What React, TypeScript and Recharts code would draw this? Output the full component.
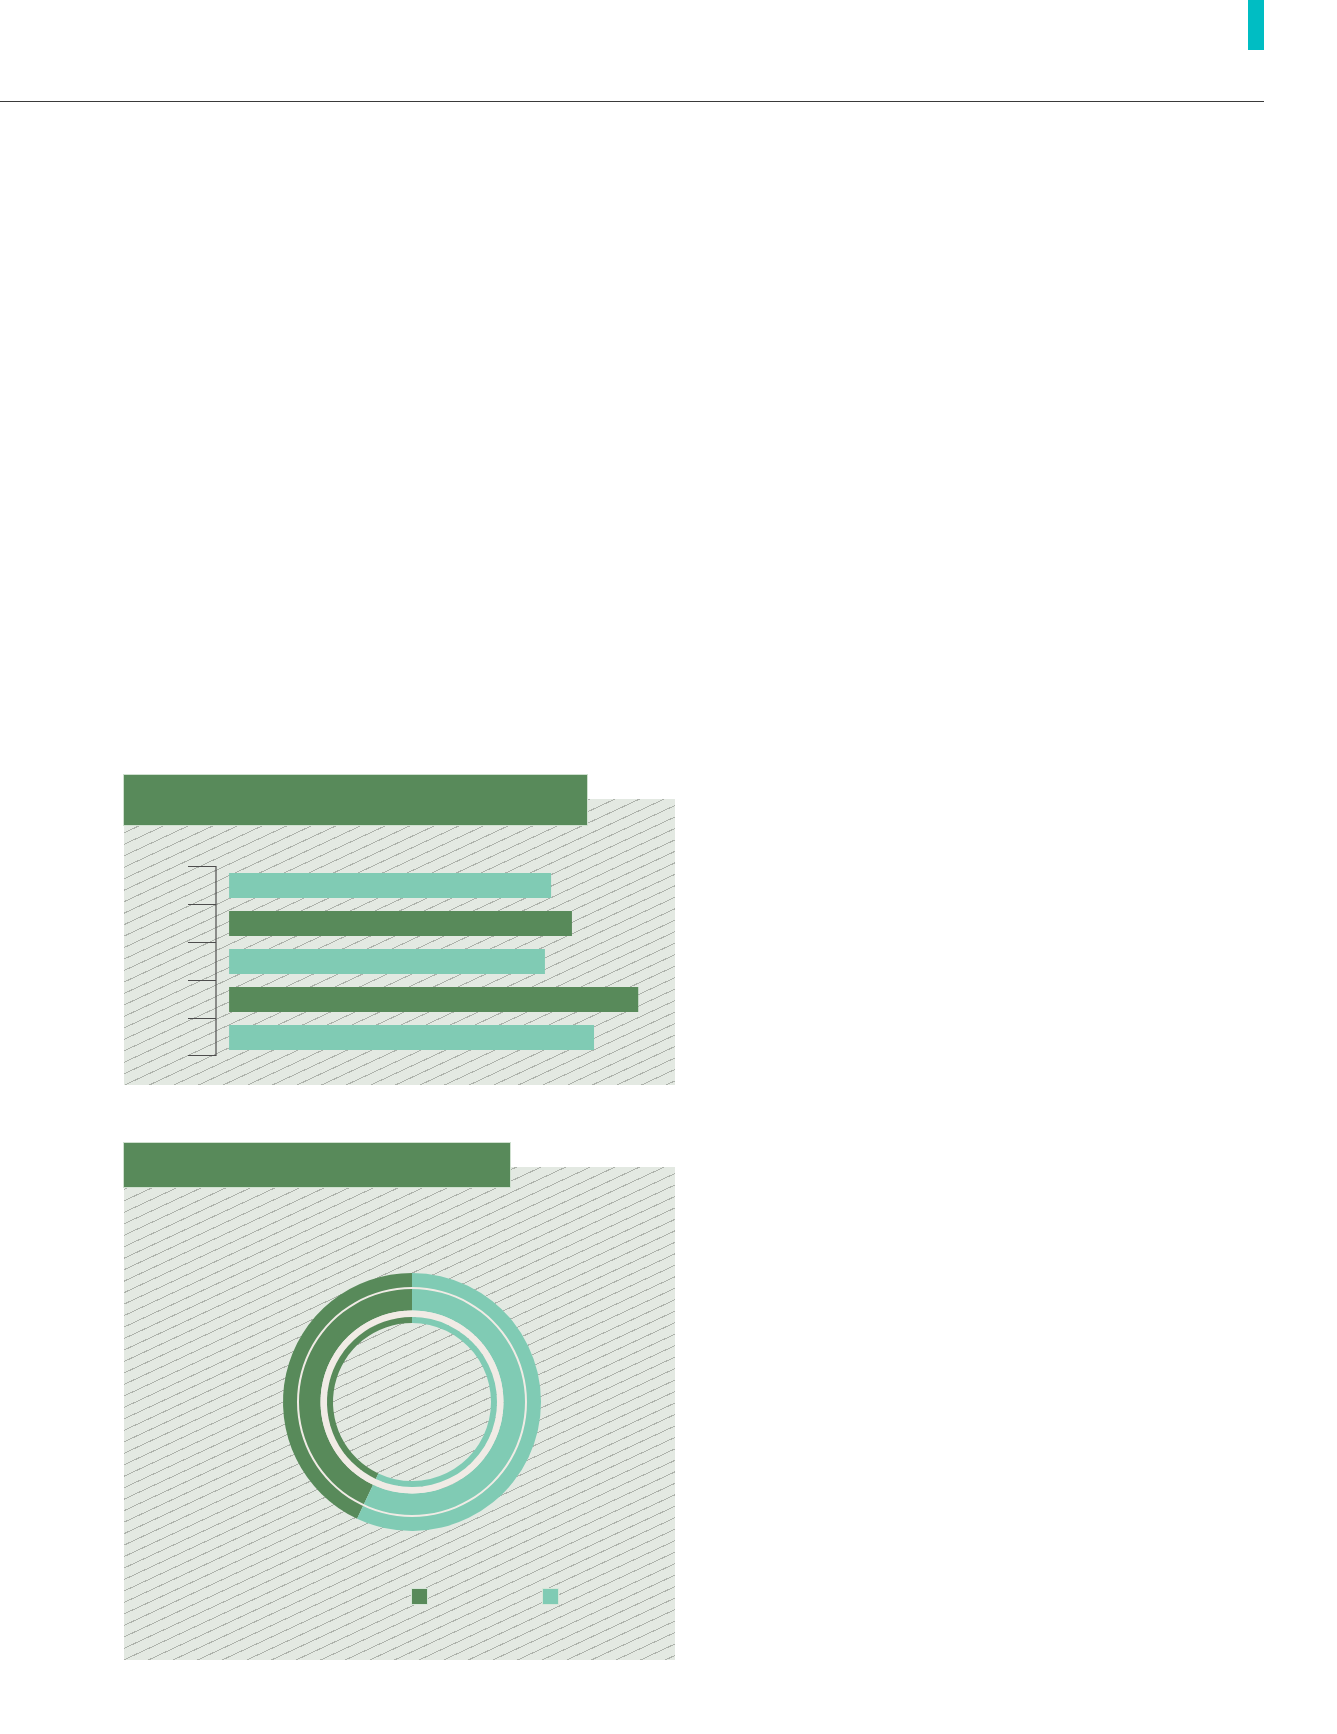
import React from 'react';
import { BarChart, Bar, XAxis, YAxis, Cell, PieChart, Pie, Legend } from 'recharts';

// bar panel: five rows, top to bottom
const barCategories = ['row1', 'row2', 'row3', 'row4', 'row5'];
const barValues = [78.7, 83.8, 77.2, 100, 89.2];
const barColorKeys = ['light', 'dark', 'light', 'dark', 'light'];

// donut panel: outer and inner rings, share of each series
const ringNames = ['dark', 'light'];
const outerRingValues = [43, 57];
const innerRingValues = [43, 57];
const fullRingValues = [1];

const DARK = '#588a5a';
const LIGHT = '#80cbb4';
const CREAM = '#f0ebe5';
const HATCH_BG = '#e3e9e2';
const HATCH_LINE = '#adb2ab';
const CYAN = '#00bdc3';
const AXIS = '#4d4d4d';

const colorOf = (key: string) => (key === 'dark' ? DARK : LIGHT);

const barData = barCategories.map((name, i) => ({ name, value: barValues[i], key: barColorKeys[i] }));
const outerData = ringNames.map((name, i) => ({ name, value: outerRingValues[i] }));
const innerData = ringNames.map((name, i) => ({ name, value: innerRingValues[i] }));
const fullRing = fullRingValues.map((value) => ({ name: 'ring', value }));

const hatch: React.CSSProperties = {
    position: 'absolute',
    backgroundColor: HATCH_BG,
    backgroundImage: `repeating-linear-gradient(155deg, ${HATCH_BG} 0px, ${HATCH_BG} 9.4px, ${HATCH_LINE} 9.4px, ${HATCH_LINE} 10.4px)`,
};

const header: React.CSSProperties = {
    position: 'absolute',
    backgroundColor: DARK,
    boxShadow: '0 0 0 1px #cfe0cf',
};

const BAR_W = 494;
const PLOT_H = 190;
const PAD = 2; // room so the end ticks are not clipped
const AXIS_W = 28;
const BAND = PLOT_H / barCategories.length;

// tick marks sit on the band boundaries, not on the band centres
const BoundaryTick = (props: any) => {
    const { x, y, index } = props;
    const top = Math.round(y - BAND / 2) + 0.5;
    const bottom = Math.round(y + BAND / 2) - 0.5;
    return (
        <g>
            <line x1={x - AXIS_W} x2={x} y1={top} y2={top} stroke={AXIS} strokeWidth={1} />
            {index === barCategories.length - 1 && (
                <line x1={x - AXIS_W} x2={x} y1={bottom} y2={bottom} stroke={AXIS} strokeWidth={1} />
            )}
        </g>
    );
};

// one square per series name (the pies repeat the same names)
const SquareLegend = (props: any) => {
    const { payload } = props;
    const seen = new Set<string>();
    const items = (payload || []).filter((entry: any) => {
        if (!ringNames.includes(entry.value) || seen.has(entry.value)) return false;
        seen.add(entry.value);
        return true;
    });
    return (
        <div style={{ display: 'flex' }}>
            {items.map((entry: any, i: number) => (
                <div key={`leg-${i}`} style={{ width: 131, height: 15 }}>
                    <div style={{ width: 15, height: 15, backgroundColor: colorOf(entry.value), boxShadow: '0 0 0 1px #d6e6d8' }} />
                </div>
            ))}
        </div>
    );
};

const App: React.FC = () => {
    return (
        <div style={{ position: 'absolute', left: 0, top: 0, width: 1337, height: 1734, background: '#fff', overflow: 'hidden' }}>
            {/* page furniture */}
            <div style={{ position: 'absolute', left: 1248, top: 0, width: 16, height: 50, background: CYAN }} />
            <div style={{ position: 'absolute', left: 0, top: 101, width: 1264, height: 1, background: '#3a3a3a' }} />

            {/* bar panel */}
            <div style={{ ...hatch, left: 124, top: 799, width: 551, height: 286 }} />
            <div style={{ ...header, left: 124, top: 775, width: 463, height: 50 }} />
            <div style={{ position: 'absolute', left: 188, top: 866 - PAD }}>
                <BarChart
                    width={BAR_W}
                    height={PLOT_H + PAD * 2}
                    data={barData}
                    layout="vertical"
                    margin={{ top: PAD, right: 0, bottom: PAD, left: 0 }}
                >
                    <XAxis type="number" domain={[-3.2, 110.7]} allowDataOverflow hide />
                    <YAxis
                        type="category"
                        dataKey="name"
                        width={AXIS_W}
                        tickSize={0}
                        tickMargin={0}
                        tickLine={false}
                        axisLine={{ stroke: AXIS, strokeWidth: 1.2 }}
                        tick={<BoundaryTick />}
                        interval={0}
                    />
                    <Bar dataKey="value" barSize={25} isAnimationActive={false}>
                        {barData.map((entry, index) => (
                            <Cell key={`cell-${index}`} fill={colorOf(entry.key)} />
                        ))}
                    </Bar>
                </BarChart>
            </div>

            {/* donut panel */}
            <div style={{ ...hatch, left: 124, top: 1167, width: 551, height: 493 }} />
            <div style={{ ...header, left: 124, top: 1143, width: 386, height: 44 }} />
            <div style={{ position: 'absolute', left: 124, top: 1167 }}>
                <PieChart width={551} height={493} margin={{ top: 0, right: 0, bottom: 0, left: 0 }}>
                    <Pie
                        data={outerData}
                        dataKey="value"
                        nameKey="name"
                        cx={288}
                        cy={235}
                        innerRadius={91.5}
                        outerRadius={129}
                        startAngle={90}
                        endAngle={450}
                        stroke="none"
                        isAnimationActive={false}
                    >
                        {outerData.map((entry, index) => (
                            <Cell key={`outer-${index}`} fill={colorOf(entry.name)} />
                        ))}
                    </Pie>
                    <Pie
                        data={fullRing}
                        dataKey="value"
                        cx={288}
                        cy={235}
                        innerRadius={113}
                        outerRadius={115}
                        fill={CREAM}
                        stroke="none"
                        isAnimationActive={false}
                    />
                    <Pie
                        data={fullRing}
                        dataKey="value"
                        cx={288}
                        cy={235}
                        innerRadius={85}
                        outerRadius={91.5}
                        fill={CREAM}
                        stroke="none"
                        isAnimationActive={false}
                    />
                    <Pie
                        data={innerData}
                        dataKey="value"
                        nameKey="name"
                        cx={288}
                        cy={235}
                        innerRadius={79}
                        outerRadius={85}
                        startAngle={90}
                        endAngle={450}
                        stroke="none"
                        isAnimationActive={false}
                    >
                        {innerData.map((entry, index) => (
                            <Cell key={`inner-${index}`} fill={colorOf(entry.name)} />
                        ))}
                    </Pie>
                    <Legend
                        content={<SquareLegend />}
                        wrapperStyle={{ position: 'absolute', left: 288, top: 422, width: 262, height: 15 }}
                    />
                </PieChart>
            </div>
        </div>
    );
};

export default App;
